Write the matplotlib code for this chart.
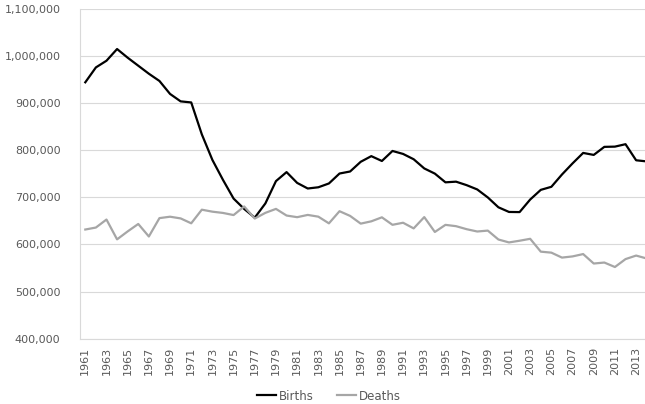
import matplotlib
matplotlib.use("Agg")
import matplotlib.pyplot as plt
from matplotlib.ticker import FuncFormatter

years = list(range(1961, 2015))
births = [944365, 975954, 990160, 1015000, 996600, 979600, 962600, 947200, 919700, 903900,
          901600, 833900, 779500, 737100, 697500, 675500, 657000, 687200, 734600, 753700,
          730800, 718900, 721500, 729600, 750700, 755000, 775600, 787600, 777300, 798600,
          792300, 781000, 761500, 750500, 732000, 733400, 726000, 716900, 699900, 679000,
          669100, 668800, 695500, 716000, 722500, 748600, 772200, 794400, 790200, 807300,
          807800, 812970, 778800, 776400]
deaths = [631800, 636000, 653000, 610900, 627800, 643600, 617000, 656000, 659000, 655400,
          645000, 673900, 669700, 667000, 662500, 680800, 655100, 667200, 675600, 661500,
          658000, 662800, 659100, 644900, 670700, 660700, 644300, 649200, 657700, 641800,
          646200, 634200, 658200, 626600, 641700, 638900, 632500, 627600, 629500, 610600,
          604400, 608000, 612100, 584800, 582700, 572200, 574700, 579700, 559600, 561700,
          552200, 569000, 576500, 570300]
yticks = [400000, 500000, 600000, 700000, 800000, 900000, 1000000, 1100000]

plt.rcParams['font.family'] = ['DejaVu Sans']
W, H = 645, 404
fig = plt.figure(figsize=(W / 100, H / 100), dpi=100)
ax = fig.add_axes([80 / W, (H - 338.7) / H, 572 / W, (338.7 - 9) / H])

x = list(range(len(years)))
ax.plot(x, births, color='#000000', lw=1.6, label='Births', solid_joinstyle='round')
ax.plot(x, deaths, color='#a6a6a6', lw=1.6, label='Deaths', solid_joinstyle='round')

ax.set_xlim(-0.5, len(years) - 0.5)
ax.set_ylim(400000, 1100000)
ax.set_yticks(yticks)
ax.yaxis.set_major_formatter(FuncFormatter(lambda v, p: f"{int(v):,}"))
ax.set_xticks(x[::2])
ax.set_xticklabels([str(y) for y in years[::2]], rotation=90)
ax.tick_params(axis='both', length=0, labelsize=8, colors='#595959', pad=6)
ax.tick_params(axis='y', pad=14)
ax.grid(axis='y', color='#d9d9d9', lw=0.8)
ax.set_axisbelow(True)
for s in ['top', 'right']:
    ax.spines[s].set_visible(False)
for s in ['left', 'bottom']:
    ax.spines[s].set_color('#d9d9d9')
    ax.spines[s].set_linewidth(0.8)

fig.legend(loc='center', bbox_to_anchor=(329 / W, 1 - 396 / H), ncol=2, frameon=False,
           fontsize=8.5, handlelength=1.6, handletextpad=0.3, columnspacing=1.9,
           labelcolor='#595959')

fig.savefig('out.png', dpi=100, facecolor='white')
